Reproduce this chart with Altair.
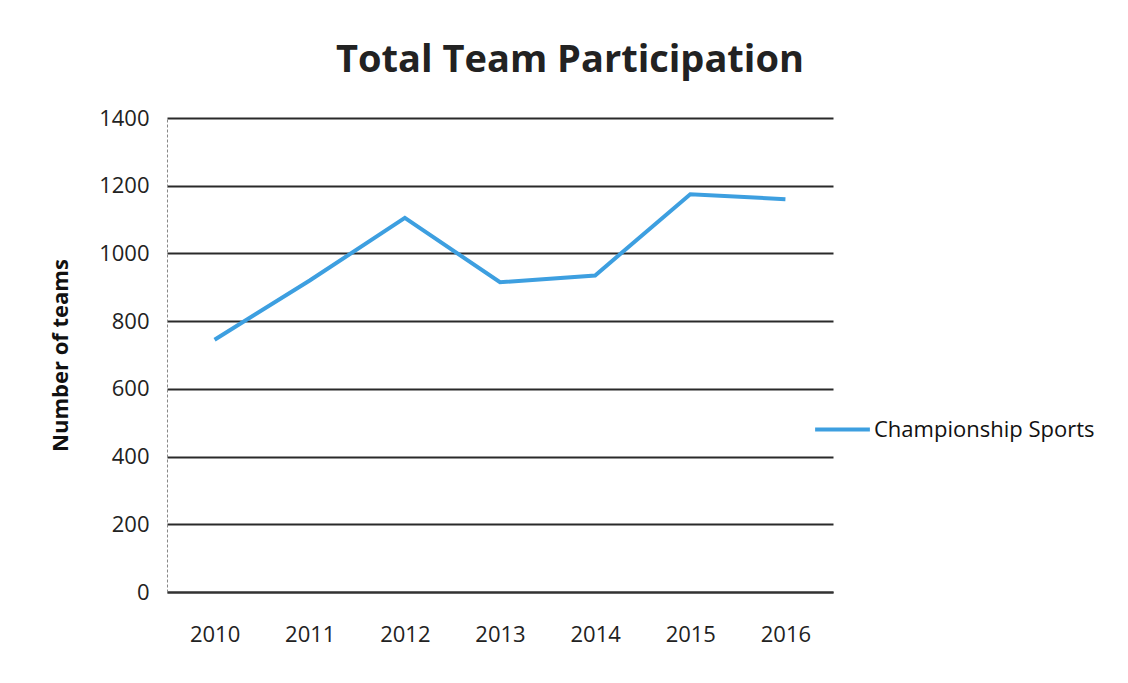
import altair as alt
import pandas as pd

years = ["2010", "2011", "2012", "2013", "2014", "2015", "2016"]
teams = [745, 920, 1105, 915, 935, 1175, 1160]
series = ["Championship Sports"] * len(years)

df = pd.DataFrame({"Year": years, "Teams": teams, "Series": series})

FONT = "Open Sans"

chart = (
    alt.Chart(df)
    .mark_line(strokeWidth=4, color="#3d9fe0")
    .encode(
        x=alt.X(
            "Year:O",
            sort=years,
            scale=alt.Scale(type="point", padding=0.5),
            axis=alt.Axis(
                title=None,
                labelAngle=0,
                labelFontSize=22,
                labelColor="#222222",
                labelPadding=32,
                ticks=False,
                domainColor="#333333",
                domainWidth=2,
                grid=False,
                labelFont=FONT,
            ),
        ),
        y=alt.Y(
            "Teams:Q",
            scale=alt.Scale(domain=[0, 1400]),
            axis=alt.Axis(
                title="Number of teams",
                titleFontSize=22,
                titleFontWeight="bold",
                titleColor="#111111",
                titleFont=FONT,
                titlePadding=26,
                values=[0, 200, 400, 600, 800, 1000, 1200, 1400],
                format="d",
                labelFontSize=22,
                labelColor="#222222",
                labelFont=FONT,
                labelPadding=18,
                ticks=False,
                domainColor="#888888",
                domainDash=[3, 2],
                domainWidth=1,
                grid=True,
                gridColor="#2a2a2a",
                gridWidth=2,
            ),
        ),
        color=alt.Color(
            "Series:N",
            scale=alt.Scale(range=["#3d9fe0"]),
            legend=alt.Legend(
                title=None,
                orient="none",
                legendX=646,
                legendY=282,
                symbolType="stroke",
                symbolSize=3000,
                symbolStrokeWidth=4,
                labelFontSize=22,
                labelFont=FONT,
                labelColor="#111111",
                labelOffset=2,
                labelLimit=400,
                padding=0,
            ),
        ),
    )
    .properties(
        width=666,
        height=474,
        padding={"left": 159, "top": 110, "right": 287, "bottom": 83},
        autosize=alt.AutoSizeParams(type="none"),
        title=alt.TitleParams(
            "Total Team Participation",
            fontSize=38,
            fontWeight="bold",
            font=FONT,
            color="#222222",
            anchor="middle",
            dx=70,
            offset=27,
        ),
    )
    .configure_view(stroke=None)
)

chart.save("out.html", embed_options={"renderer": "svg", "actions": False})
